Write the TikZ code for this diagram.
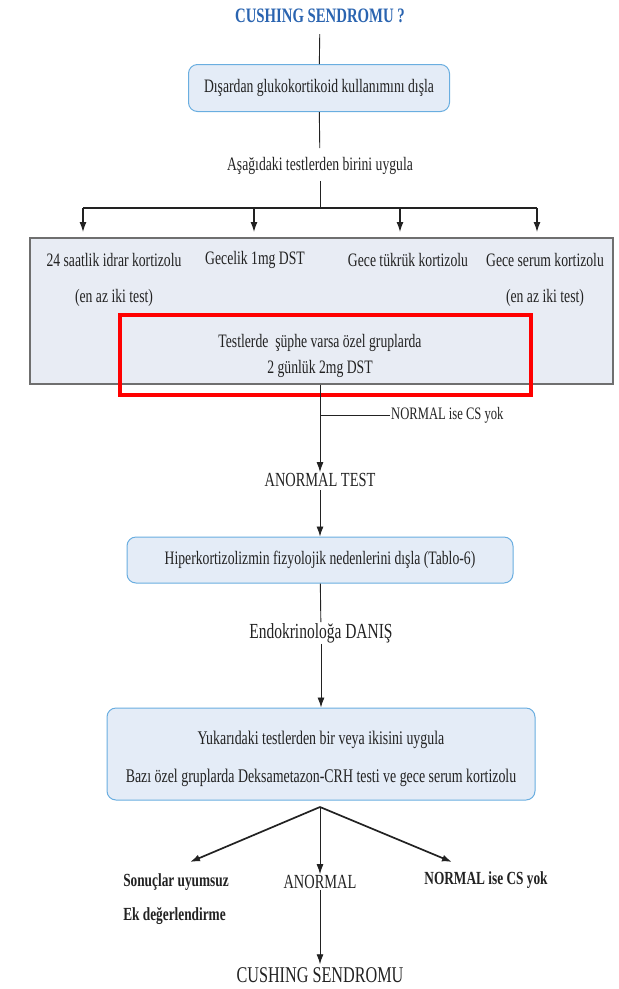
\documentclass[tikz,border=0pt]{standalone}
\usepackage{fontspec}
\setmainfont{Liberation Serif}[FakeStretch=0.72]
\usetikzlibrary{arrows.meta,positioning}
\definecolor{boxblue}{HTML}{E4ECF7}
\definecolor{edgeblue}{HTML}{6AAEE0}
\definecolor{testgray}{HTML}{E8ECF4}
\definecolor{titleblue}{HTML}{2A64B0}
\definecolor{ink}{HTML}{222222}
\begin{document}
\begin{tikzpicture}[x=1pt,y=-1pt,
    roundbox/.style={draw=edgeblue,fill=boxblue,rounded corners=9pt,line width=1pt,inner sep=0pt},
    lbl/.style={text=ink,inner sep=1pt,font=\fontsize{19}{21}\selectfont},
    blbl/.style={text=ink,inner sep=1pt,font=\fontsize{18.5}{34}\selectfont\bfseries},
    flow/.style={draw=ink,line width=0.9pt,-{Latex[length=10pt,width=7pt]}},
    link/.style={draw=ink,line width=0.9pt}]
  \useasboundingbox (0,0) rectangle (619,989);
  % top part
  \node[lbl,text=titleblue,font=\fontsize{20.5}{22}\selectfont\bfseries] (title) at (320,16) {CUSHING SENDROMU ?};
  \node[roundbox,minimum width=261pt,minimum height=47pt,lbl] (exog) at (319,88) {Dışardan glukokortikoid kullanımını dışla};
  \node[lbl] (apply) at (320,166) {Aşağıdaki testlerden birini uygula};
  \draw[link,shorten <=10pt] (title) -- (exog);
  \draw[link,shorten >=8pt] (exog) -- (apply);
  \coordinate (split) at (320,208);
  \draw[link,shorten <=5pt] (apply) -- (split);
  \foreach \name/\xx in {a/83,b/254,c/400,d/537} {
    \coordinate (top\name) at (\xx,208);
    \coordinate (tip\name) at (\xx,232);
    \draw[flow,line width=1.3pt] (top\name) -- (tip\name);
  }
  \draw[draw=ink,line width=1.8pt] (topa) -- (topd);
  % screening tests
  \node[draw=ink!65,fill=testgray,line width=1.1pt,minimum width=583pt,minimum height=146pt] (tests) at (321.5,311) {};
  \node[lbl] (urine) at (114,260) {24 saatlik idrar kortizolu};
  \node[lbl] (dst1) at (255,260) {Gecelik 1mg DST};
  \node[lbl] (saliva) at (408,260) {Gece tükrük kortizolu};
  \node[lbl] (serum) at (545,260) {Gece serum kortizolu};
  \node[lbl] (urinenote) at (114,298) {(en az iki test)};
  \node[lbl] (serumnote) at (545,298) {(en az iki test)};
  \node[draw=red,line width=4.5pt,minimum width=411pt,minimum height=80pt] (susp) at (325.5,355) {};
  \node[lbl,align=center,font=\fontsize{19}{26}\selectfont] (dst2) at (320,356) {Testlerde \ şüphe varsa özel gruplarda\\2 günlük 2mg DST};
  % abnormal result
  \node[lbl,font=\fontsize{20}{22}\selectfont] (abn) at (320,480) {ANORMAL TEST};
  \draw[flow] (tests.south -| abn) -- (abn);
  \coordinate (nbranch) at (320,415);
  \node[lbl,anchor=west,font=\fontsize{17.5}{19}\selectfont] (normal1) at (390,415) {NORMAL ise CS yok};
  \draw[link] (nbranch) -- (normal1);
  \node[roundbox,minimum width=386pt,minimum height=46pt,lbl] (physio) at (320,560) {Hiperkortizolizmin fizyolojik nedenlerini dışla (Tablo-6)};
  \draw[flow,shorten <=2pt] (abn) -- (physio);
  \node[lbl,font=\fontsize{21.5}{23}\selectfont] (endo) at (321,633) {Endokrinoloğa DANIŞ};
  \draw[link] (physio) -- (endo);
  \node[roundbox,minimum width=428pt,minimum height=92pt] (confirm) at (321,754) {};
  \node[lbl,align=center,font=\fontsize{19.3}{38}\selectfont] (confirmtext) at (321,759) {Yukarıdaki testlerden bir veya ikisini uygula\\Bazı özel gruplarda Deksametazon-CRH testi ve gece serum kortizolu};
  \draw[flow] (endo) -- (confirm);
  % outcomes
  \coordinate (fork) at (320,807);
  \node[blbl,align=left] (discord) at (176,899) {Sonuçlar uyumsuz\\Ek değerlendirme};
  \node[lbl,font=\fontsize{20}{22}\selectfont] (abn2) at (320,882) {ANORMAL};
  \node[blbl] (normal2) at (486,880) {NORMAL ise CS yok};
  \coordinate (lefttip) at (190,862);
  \coordinate (righttip) at (452,862);
  \draw[flow,line width=1.7pt] (fork) -- (lefttip);
  \draw[flow,line width=1.7pt] (fork) -- (righttip);
  \draw[flow] (fork) -- (abn2);
  \node[lbl,font=\fontsize{22.5}{24}\selectfont] (cs) at (320,975) {CUSHING SENDROMU};
  \draw[flow,shorten >=2pt] (abn2) -- (cs);
\end{tikzpicture}
\end{document}
